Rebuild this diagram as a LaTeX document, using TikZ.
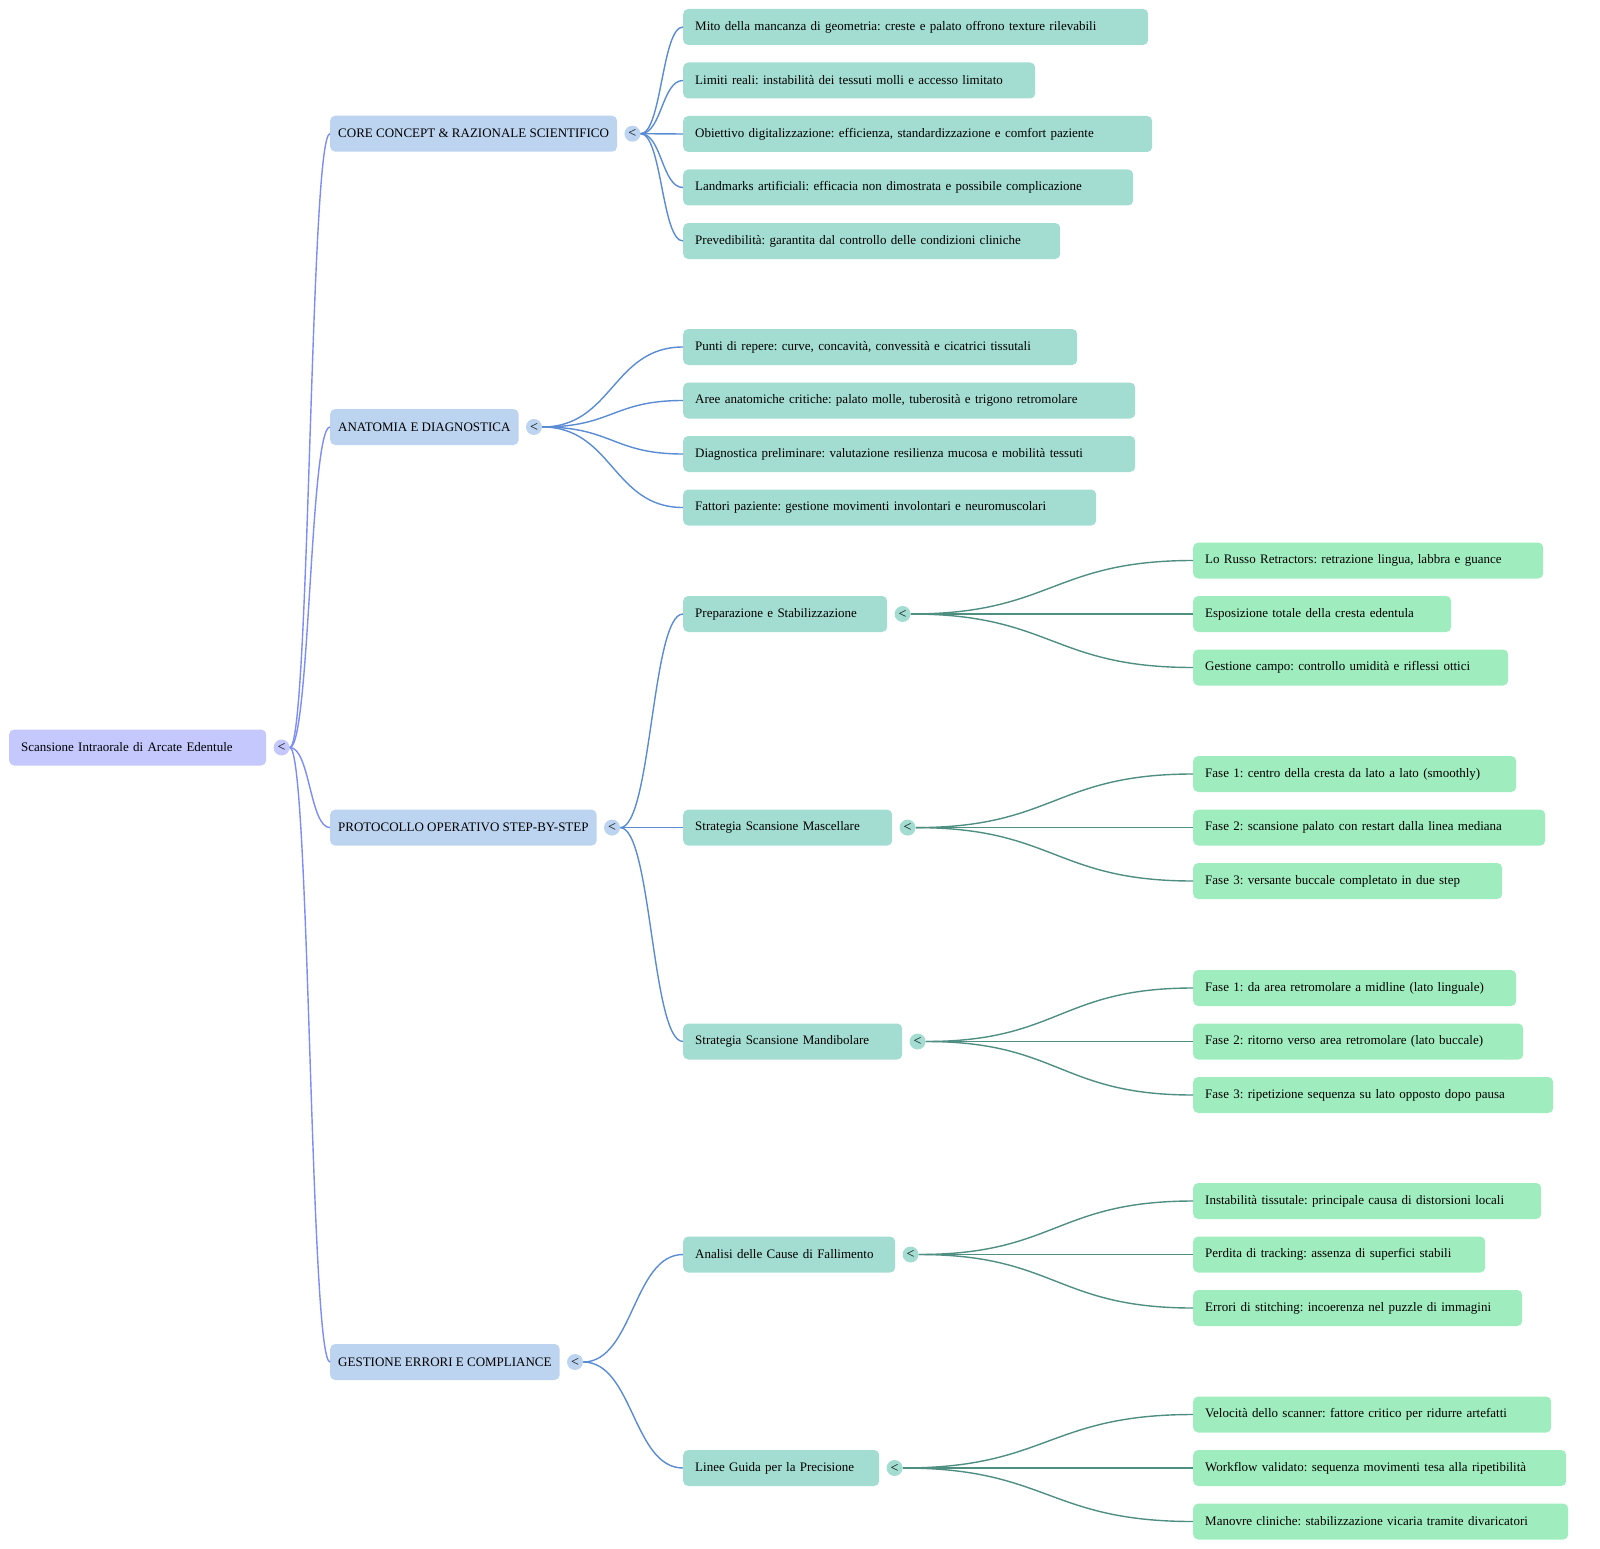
\documentclass[tikz,border=0pt]{standalone}
\usepackage{fontspec}
\setmainfont{Liberation Serif}
\usepackage{tikz}
\usetikzlibrary{positioning,calc}
\definecolor{lavanda}{HTML}{C4C8FC}
\definecolor{celeste}{HTML}{BCD4F0}
\definecolor{acqua}{HTML}{A3DDD2}
\definecolor{menta}{HTML}{9FEDBF}
\definecolor{violetto}{HTML}{7C8CF8}
\definecolor{azzurro}{HTML}{5A8CD4}
\definecolor{petrolio}{HTML}{4F8F82}
\newcommand{\corA}{lavanda}
\newcommand{\corB}{celeste}
\newcommand{\corC}{acqua}
\newcommand{\corD}{menta}
\newcommand{\corE}{violetto}
\newcommand{\corF}{azzurro}
\newcommand{\corG}{petrolio}
\tikzset{curva/.style={to path={let \p1=(\tikztostart), \p2=(\tikztotarget) in
  .. controls ({(\x1+\x2)/2},\y1) and ({(\x1+\x2)/2},\y2) .. (\tikztotarget)}}}
\frenchspacing

\begin{document}
\begin{tikzpicture}[x=1pt, y=-1pt,
    base/.style = {rounded corners=5pt, minimum height=36pt, inner ysep=0pt, anchor=west,
                   align=left, font=\fontsize{13}{16}\selectfont},
    radice/.style = {base, fill=\corA, inner xsep=12pt},
    ramo/.style = {base, fill=\corB, inner xsep=8pt},
    sotto/.style = {base, fill=\corC, inner xsep=12pt},
    foglia/.style = {base, fill=\corD, inner xsep=12pt},
    pallino/.style = {circle, minimum size=16pt, inner sep=0pt, font=\fontsize{14}{14}\selectfont},
    arco/.style = {line width=1.4pt, curva}]
        \useasboundingbox (0,0) rectangle (1600,1549);

          % radice
        \node[radice, text width=233pt] (r) at (9,747.5) {Scansione Intraorale di Arcate Edentule};
        \node[pallino, fill=\corA, right=7pt of r] (pr) {<};

          % rami
        \node[ramo] (k1) at (330,133.7) {CORE CONCEPT \& RAZIONALE SCIENTIFICO};
        \node[ramo] (k2) at (330,427) {ANATOMIA E DIAGNOSTICA};
        \node[ramo] (k3) at (330,827.6) {PROTOCOLLO OPERATIVO STEP-BY-STEP};
        \node[ramo] (k4) at (330,1362) {GESTIONE ERRORI E COMPLIANCE};
        \foreach \k in {k1,k2,k3,k4} {
          \node[pallino, fill=\corB, right=7pt of \k] (p\k) {<};
          \draw[arco, draw=\corE] (pr.east) to (\k.west);
        }

          % ramo 1
        \node[sotto, text width=441pt] (c1) at (683,27) {Mito della mancanza di geometria: creste e palato offrono texture rilevabili};
        \node[sotto, text width=328pt] (c2) at (683,80.5) {Limiti reali: instabilità dei tessuti molli e accesso limitato};
        \node[sotto, text width=445pt] (c3) at (683,134) {Obiettivo digitalizzazione: efficienza, standardizzazione e comfort paziente};
        \node[sotto, text width=426pt] (c4) at (683,187.5) {Landmarks artificiali: efficacia non dimostrata e possibile complicazione};
        \node[sotto, text width=353pt] (c5) at (683,241) {Prevedibilità: garantita dal controllo delle condizioni cliniche};
        \foreach \c in {c1,c2,c3,c4,c5}
          \draw[arco, draw=\corF] (pk1.east) to (\c.west);

          % ramo 2
        \node[sotto, text width=370pt] (a1) at (683,347) {Punti di repere: curve, concavità, convessità e cicatrici tissutali};
        \node[sotto, text width=428pt] (a2) at (683,400.5) {Aree anatomiche critiche: palato molle, tuberosità e trigono retromolare};
        \node[sotto, text width=428pt] (a3) at (683,454) {Diagnostica preliminare: valutazione resilienza mucosa e mobilità tessuti};
        \node[sotto, text width=389pt] (a4) at (683,507.5) {Fattori paziente: gestione movimenti involontari e neuromuscolari};
        \foreach \a in {a1,a2,a3,a4}
          \draw[arco, draw=\corF] (pk2.east) to (\a.west);

          % ramo 3
        \node[sotto, text width=180pt] (s1) at (683,614) {Preparazione e Stabilizzazione};
        \node[sotto, text width=185pt] (s2) at (683,827.6) {Strategia Scansione Mascellare};
        \node[sotto, text width=195pt] (s3) at (683,1041.5) {Strategia Scansione Mandibolare};

          % ramo 4
        \node[sotto, text width=188pt] (g1) at (683,1254.5) {Analisi delle Cause di Fallimento};
        \node[sotto, text width=172pt] (g2) at (683,1468) {Linee Guida per la Precisione};
        \foreach \s/\m in {s1/pk3,s2/pk3,s3/pk3,g1/pk4,g2/pk4} {
          \node[pallino, fill=\corC, right=7pt of \s] (p\s) {<};
          \draw[arco, draw=\corF] (\m.east) to (\s.west);
        }

          % foglie di s1
        \node[foglia, text width=326pt] (s11) at (1193,560.5) {Lo Russo Retractors: retrazione lingua, labbra e guance};
        \node[foglia, text width=234pt] (s12) at (1193,614) {Esposizione totale della cresta edentula};
        \node[foglia, text width=291pt] (s13) at (1193,667.5) {Gestione campo: controllo umidità e riflessi ottici};

          % foglie di s2
        \node[foglia, text width=299pt] (s21) at (1193,774) {Fase 1: centro della cresta da lato a lato (smoothly)};
        \node[foglia, text width=328pt] (s22) at (1193,827.6) {Fase 2: scansione palato con restart dalla linea mediana};
        \node[foglia, text width=285pt] (s23) at (1193,881) {Fase 3: versante buccale completato in due step};

          % foglie di s3
        \node[foglia, text width=299pt] (s31) at (1193,988) {Fase 1: da area retromolare a midline (lato linguale)};
        \node[foglia, text width=306pt] (s32) at (1193,1041.5) {Fase 2: ritorno verso area retromolare (lato buccale)};
        \node[foglia, text width=336pt] (s33) at (1193,1095) {Fase 3: ripetizione sequenza su lato opposto dopo pausa};

          % foglie di g1
        \node[foglia, text width=324pt] (g11) at (1193,1201) {Instabilità tissutale: principale causa di distorsioni locali};
        \node[foglia, text width=268pt] (g12) at (1193,1254.5) {Perdita di tracking: assenza di superfici stabili};
        \node[foglia, text width=305pt] (g13) at (1193,1308) {Errori di stitching: incoerenza nel puzzle di immagini};

          % foglie di g2
        \node[foglia, text width=334pt] (g21) at (1193,1414.5) {Velocità dello scanner: fattore critico per ridurre artefatti};
        \node[foglia, text width=349pt] (g22) at (1193,1468) {Workflow validato: sequenza movimenti tesa alla ripetibilità};
        \node[foglia, text width=351pt] (g23) at (1193,1521.5) {Manovre cliniche: stabilizzazione vicaria tramite divaricatori};

        \foreach \q in {s1,s2,s3,g1,g2}
          \foreach \i in {1,2,3}
            \draw[arco, draw=\corG] (p\q.east) to (\q\i.west);
\end{tikzpicture}
\end{document}
